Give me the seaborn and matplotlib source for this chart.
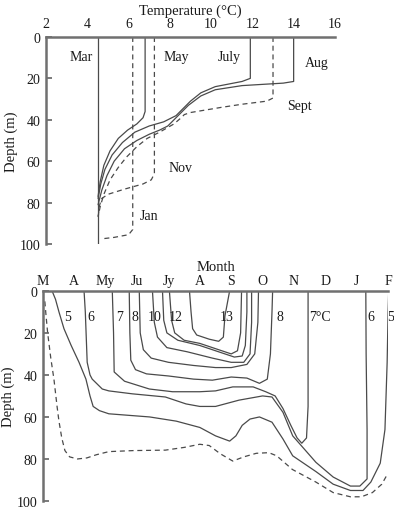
import matplotlib
matplotlib.use("Agg")
import matplotlib.pyplot as plt
import seaborn as sns

# ---- top panel: temperature profiles (temperature in C, depth in m) ----
mar_t = [4.5, 4.5]
mar_d = [0, 100]
may_t = [6.8, 6.8, 6.7, 6.4, 5.95, 5.5, 5.1, 4.8, 4.62, 4.52]
may_d = [0, 36, 39, 42, 45, 49, 55, 62, 70, 77]
july_t = [11.9, 11.9, 11.5, 10.2, 9.5, 9.0, 8.6, 8.3, 7.7, 7.0, 6.3, 5.7, 5.2, 4.85, 4.65, 4.52]
july_d = [0, 20, 21.5, 24, 27, 31, 35, 38, 41, 43, 46, 51, 57, 64, 71, 78]
aug_t = [14, 14, 13.5, 11.5, 10.2, 9.5, 8.9, 8.5, 8.2, 7.9, 7.5, 7.0, 6.4, 5.8, 5.3, 4.95, 4.7, 4.52]
aug_d = [0, 21.5, 22.3, 23.5, 25.5, 28.5, 33, 37, 40, 43, 45, 47, 50, 54, 60, 67, 74, 81]
sept_t = [13, 13, 12.7, 11.5, 10.5, 9.6, 9.0, 8.7, 8.55, 8.2, 7.5, 6.9, 6.4, 5.9, 5.5, 5.1, 4.8, 4.62, 4.52]
sept_d = [0, 29.5, 31, 32.5, 34, 35.5, 36.5, 37.5, 39, 42, 46, 49, 53, 58, 63, 69, 76, 82, 87]
nov_t = [7.25, 7.25, 7.1, 6.7, 5.8, 5.0, 4.7, 4.6, 4.52]
nov_d = [0, 66, 69, 71, 73.5, 76, 78, 81, 87]
jan_t = [6.2, 6.2, 6.0, 5.3, 4.7]
jan_d = [0, 93, 95.5, 96.8, 97.5]

profile_names = ["Mar", "May", "July", "Aug", "Sept", "Nov", "Jan"]
profile_label_t = [3.7, 8.3, 10.9, 15.1, 14.3, 8.5, 7.0]
profile_label_d = [9.5, 9.5, 9.5, 12.5, 33, 63, 86]

# ---- bottom panel: isotherms (month index 0 = March ... 11 = February, depth in m) ----
month_labels = ["M", "A", "My", "Ju", "Jy", "A", "S", "O", "N", "D", "J", "F"]

iso_dash_m = [0.06, 0.1, 0.15, 0.25, 0.35, 0.45, 0.51, 0.6, 0.7, 0.85, 1.1, 1.4, 1.7, 2.1, 2.9, 3.9,
              4.5, 5.0, 5.3, 5.65, 6.05, 6.4, 6.8, 7.2, 7.45, 7.95, 8.7, 9.25, 9.8, 10.15, 10.5, 10.8, 10.95]
iso_dash_d = [5, 12, 20, 32, 42, 55, 62, 70, 76, 79, 80, 79.5, 78, 76.5, 76, 75.8,
              74.5, 73, 73.6, 77.5, 81, 79, 77.3, 77, 78.5, 85, 91, 96, 98, 98, 96, 92, 88]
iso5_m = [0.29, 0.4, 0.51, 0.67, 0.9, 1.15, 1.37, 1.5, 1.6, 1.8, 2.1, 3.4, 4.25, 5.0, 5.5, 5.95, 6.15,
          6.35, 6.6, 6.9, 7.3, 7.65, 7.96, 8.7, 9.25, 9.8, 10.2, 10.45, 10.75, 10.9, 10.97, 11.0, 11.02]
iso5_d = [0, 4, 10, 18, 26, 34, 42, 50, 55, 57, 58.5, 60, 62, 65, 69, 71.5, 69,
          64, 61, 60, 62.5, 70.5, 78.5, 86, 92, 95, 95, 91, 82, 66, 34, 10, 0]
iso6_m = [1.31, 1.35, 1.37, 1.41, 1.5, 1.57, 1.89, 2.1, 2.85, 3.9, 4.56, 5.0, 5.5, 6.25, 7.0, 7.3,
          7.65, 7.96, 8.7, 9.25, 9.8, 10.1, 10.33, 10.33, 10.3, 10.29]
iso6_d = [0, 10, 18, 34, 40, 42, 46.7, 47.6, 49, 50.5, 53.8, 55, 55, 52, 50, 50.5,
          57.8, 69, 81.6, 88.6, 92.9, 92.9, 89.5, 66, 30, 0]
iso7_m = [2.21, 2.25, 2.27, 2.6, 3.39, 4.13, 5.0, 5.5, 6.05, 6.7, 7.1, 7.4, 7.65, 7.9, 8.1, 8.25, 8.4, 8.45, 8.45, 8.45]
iso7_d = [0, 20, 38.6, 43, 46.7, 48, 48, 47.6, 45.7, 45.7, 48, 50, 56, 64, 70, 72.5, 70, 55, 20, 0]
iso8_m = [2.75, 2.77, 2.8, 2.95, 3.3, 4.0, 4.8, 5.4, 6.0, 6.5, 6.9, 7.15, 7.25, 7.3, 7.32]
iso8_d = [0, 20, 33, 37.5, 39.5, 40.5, 42, 42.5, 41, 41.5, 44, 42, 30, 10, 0]
iso9_m = [3.07, 3.1, 3.2, 3.45, 4.0, 4.8, 5.5, 6.0, 6.5, 6.75, 6.85, 6.87]
iso9_d = [0, 20, 28, 32, 34, 35.5, 36.5, 36.5, 35, 30, 15, 0]
iso10_m = [3.49, 3.55, 3.65, 3.95, 4.6, 5.4, 6.0, 6.4, 6.6, 6.65, 6.65]
iso10_d = [0, 15, 22, 27, 29, 32, 34, 34, 30, 15, 0]
iso11_m = [3.81, 3.85, 3.95, 4.3, 5.0, 5.6, 6.1, 6.35, 6.45, 6.5, 6.5]
iso11_d = [0, 14, 20, 23.5, 26, 29, 31.5, 31, 26, 10, 0]
iso12_m = [4.03, 4.1, 4.2, 4.5, 5.0, 5.6, 6.0, 6.2, 6.3, 6.33]
iso12_d = [0, 14, 20, 23.5, 25, 28, 30, 28.5, 20, 0]
iso13_m = [4.67, 4.72, 4.77, 4.9, 5.3, 5.6, 5.75, 5.8, 5.95]
iso13_d = [0, 10, 18, 21, 23, 24, 22, 12, 0]

iso_labels = ["5", "6", "7", "8", "10", "12", "13", "8", "7°C", "6", "5"]
iso_label_m = [0.77, 1.53, 2.43, 2.94, 3.55, 4.22, 5.85, 7.55, 8.83, 10.45, 11.07]
iso_label_d = [12.4] * len(iso_labels)

LINE = "#4a4a4a"
AXC = "#707070"
DASH = (0, (4, 3))

sns.set_style("ticks")
plt.rcParams["font.family"] = ["Liberation Serif", "DejaVu Serif"]
plt.rcParams["text.color"] = "#1a1a1a"
plt.rcParams["axes.labelcolor"] = "#1a1a1a"
plt.rcParams["xtick.labelcolor"] = "#1a1a1a"
plt.rcParams["ytick.labelcolor"] = "#1a1a1a"

fig = plt.figure(figsize=(3.94, 5.10), dpi=100)
ax1 = fig.add_axes([0.117, 0.5196, 0.733, 0.406])
ax2 = fig.add_axes([0.109, 0.0157, 0.876, 0.412])


def draw(ax, xs, ys, dashed=False):
    sns.lineplot(x=xs, y=ys, sort=False, estimator=None, ax=ax, color=LINE,
                 lw=0.9, linestyle=DASH if dashed else "-")


# top panel
draw(ax1, mar_t, mar_d)
draw(ax1, may_t, may_d)
draw(ax1, july_t, july_d)
draw(ax1, aug_t, aug_d)
draw(ax1, sept_t, sept_d, dashed=True)
draw(ax1, nov_t, nov_d, dashed=True)
draw(ax1, jan_t, jan_d, dashed=True)
for name, t, d in zip(profile_names, profile_label_t, profile_label_d):
    ax1.text(t, d, name, fontsize=10, ha="center", va="center")

# bottom panel
draw(ax2, iso_dash_m, iso_dash_d, dashed=True)
for m, d in [(iso5_m, iso5_d), (iso6_m, iso6_d), (iso7_m, iso7_d), (iso8_m, iso8_d),
             (iso9_m, iso9_d), (iso10_m, iso10_d), (iso11_m, iso11_d),
             (iso12_m, iso12_d), (iso13_m, iso13_d)]:
    draw(ax2, m, d)
for lab, m, d in zip(iso_labels, iso_label_m, iso_label_d):
    ax2.text(m, d, lab, fontsize=10, ha="center", va="center")

# axes styling
ax1.set_xlim(2, 16)
ax1.set_ylim(100, 0)
ax1.set_xticks(range(2, 17, 2))
ax1.set_yticks(range(0, 101, 20))
ax1.set_xlabel("Temperature (°C)", fontsize=10.5, labelpad=2)

ax2.set_xlim(0, 11)
ax2.set_ylim(100, 0)
ax2.set_xticks(range(12))
ax2.set_xticklabels(month_labels)
ax2.set_yticks(range(0, 101, 20))
ax2.set_xlabel("Month", fontsize=10.5, labelpad=3)

for ax in (ax1, ax2):
    ax.xaxis.tick_top()
    ax.xaxis.set_label_position("top")
    sns.despine(ax=ax, top=False, bottom=True, right=True)
    for s in ("top", "left"):
        ax.spines[s].set_color(AXC)
        ax.spines[s].set_linewidth(1.8)
    ax.tick_params(direction="in", length=4, width=1.3, color=AXC, labelsize=10)
    ax.tick_params(axis="y", pad=4)
    ax.set_ylabel("Depth (m)", fontsize=10.5, labelpad=1)
    ax.set_facecolor("white")
ax1.tick_params(axis="x", pad=5)
ax2.tick_params(axis="x", pad=3)

fig.savefig("out.png", dpi=100, facecolor="white")
